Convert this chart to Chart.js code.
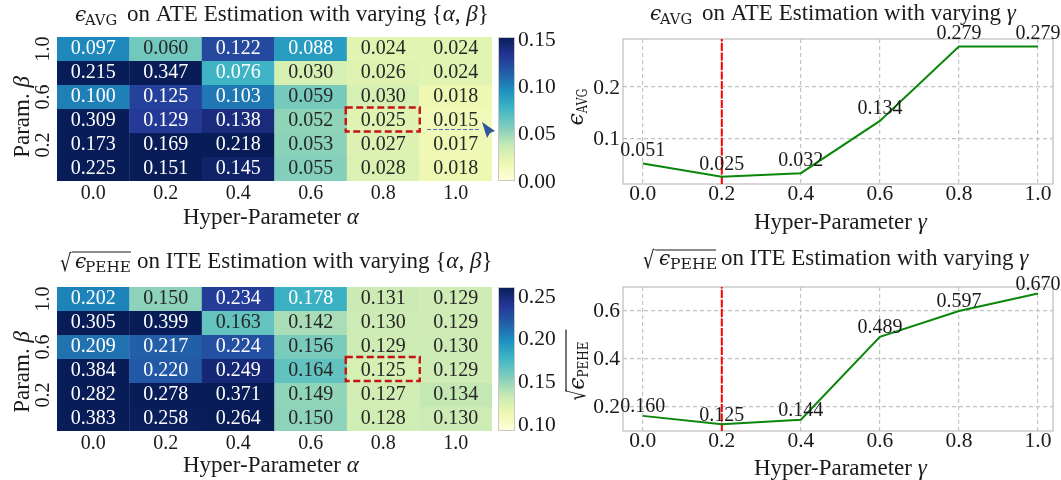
<!DOCTYPE html>
<html><head><meta charset="utf-8">
<script src="https://cdn.jsdelivr.net/npm/chart.js@4"></script>
<style>
html,body{margin:0;padding:0;background:#fff;width:1061px;height:480px;overflow:hidden}
canvas{position:absolute;left:0;top:0}
.p{position:absolute}
</style></head><body>
<div class="p" style="left:0;top:0;width:495px;height:240px"><canvas id="c1"></canvas></div>
<div class="p" style="left:495px;top:0;width:66px;height:240px"><canvas id="c2"></canvas></div>
<div class="p" style="left:561px;top:0;width:500px;height:240px"><canvas id="c3"></canvas></div>
<div class="p" style="left:0;top:240px;width:495px;height:240px"><canvas id="c4"></canvas></div>
<div class="p" style="left:495px;top:240px;width:66px;height:240px"><canvas id="c5"></canvas></div>
<div class="p" style="left:561px;top:240px;width:500px;height:240px"><canvas id="c6"></canvas></div>
<script>
const alphaLabels = ['0.0','0.2','0.4','0.6','0.8','1.0'];
const betaLabels = ['1.0','0.8','0.6','0.4','0.2','0.0'];
const gammaValues = [0,0.2,0.4,0.6,0.8,1.0];
const ateGrid = [
 [0.097,0.060,0.122,0.088,0.024,0.024],
 [0.215,0.347,0.076,0.030,0.026,0.024],
 [0.100,0.125,0.103,0.059,0.030,0.018],
 [0.309,0.129,0.138,0.052,0.025,0.015],
 [0.173,0.169,0.218,0.053,0.027,0.017],
 [0.225,0.151,0.145,0.055,0.028,0.018]];
const iteGrid = [
 [0.202,0.150,0.234,0.178,0.131,0.129],
 [0.305,0.399,0.163,0.142,0.130,0.129],
 [0.209,0.217,0.224,0.156,0.129,0.130],
 [0.384,0.220,0.249,0.164,0.125,0.129],
 [0.282,0.278,0.371,0.149,0.127,0.134],
 [0.383,0.258,0.264,0.150,0.128,0.130]];
const ateGamma = [0.051,0.025,0.032,0.134,0.279,0.279];
const iteGamma = [0.160,0.125,0.144,0.489,0.597,0.670];
const ateBarTicks = [0,0.05,0.10,0.15];
const iteBarTicks = [0.10,0.15,0.20,0.25];
const stops = ['#ffffd9','#edf8b1','#c7e9b4','#7fcdbb','#41b6c4','#1d91c0','#225ea8','#253494','#081d58'];

const SERIF='"Liberation Serif"';
const INK='#1a1a1a';
const hex=h=>[1,3,5].map(i=>parseInt(h.slice(i,i+2),16));
function cmap(t){t=Math.max(0,Math.min(1,t))*(stops.length-1);const i=Math.min(stops.length-2,Math.floor(t)),f=t-i;
 const a=hex(stops[i]),b=hex(stops[i+1]);return a.map((v,k)=>v+(b[k]-v)*f);}
const rgb=c=>`rgb(${c.map(Math.round).join(',')})`;
const lum=c=>{const l=c.map(v=>{v/=255;return v<=0.03928?v/12.92:Math.pow((v+0.055)/1.055,2.4)});return .2126*l[0]+.7152*l[1]+.0722*l[2]};

// mixed-font text in page coordinates. Segments flow; "at" pins a segment to a page x; rotated groups are centred.
function rich(ctx,item,ox,oy){
 const segs=item.s;
 ctx.save();ctx.translate(item.x-ox,item.y-oy);ctx.rotate(item.r||0);ctx.fillStyle=INK;ctx.textBaseline='alphabetic';ctx.textAlign='left';
 let w=0;segs.forEach(s=>{ctx.font=s.f;s.w=ctx.measureText(s.t).width*(s.sx||1);w+=s.w;});
 let cx=item.r?-w/2:0;
 segs.forEach(s=>{ctx.font=s.f;
  if(s.at!==undefined)cx=s.at-item.x;
  if(s.over){ctx.save();ctx.strokeStyle=INK;ctx.lineWidth=1.2;ctx.beginPath();ctx.moveTo(cx+s.over[1],s.over[0]);ctx.lineTo(cx+s.over[1]+s.over[2],s.over[0]);ctx.stroke();ctx.restore();}
  ctx.save();ctx.translate(cx,s.dy||0);ctx.scale(s.sx||1,1);ctx.fillText(s.t,0,0);ctx.restore();
  cx+=s.w;});
 ctx.restore();
}
const S=23;
const T=(t,at)=>({t,f:`${S}px ${SERIF}`,at});
const I=(t,at)=>({t,f:`italic ${S}px ${SERIF}`,at});
const EPS=(sz,at)=>({t:'ϵ',f:`italic ${sz}px "DejaVu Serif"`,at});
const SUB=(t,sz,at,sx)=>({t,f:`${sz}px "DejaVu Serif"`,dy:4,at,sx});
const ROOT=(at,over,sx,dy)=>({t:'√',f:`24px "DejaVu Sans"`,at,over,sx:sx||0.75,dy:dy===undefined?3:dy});
const richPlugin=(items,ox,oy)=>({id:'rich',afterDraw(ch){items.forEach(i=>rich(ch.ctx,i,ox,oy));}});
// moves an axis's tick text a little so the digits sit on their gridlines
const nudge=dy=>({id:'nudge',beforeDraw(ch){const s=ch.scales.y;const items=s.getLabelItems();
  items.forEach(it=>{if(!it.options.nudged){it.options.translation=[it.options.translation[0],it.options.translation[1]+dy];it.options.nudged=true;}});}});

function heat(id,grid,vmin,vmax,top,xH,oy,items,extra){
 const datasets=grid.map((row,r)=>({
  data:row.map(()=>[5-r,6-r]),
  vals:row,
  backgroundColor:row.map(v=>rgb(cmap((v-vmin)/(vmax-vmin)))),
  borderWidth:0,barPercentage:1.005,categoryPercentage:1,grouped:false}));
 const cellText={id:'cellText',afterDatasetsDraw(ch){const c=ch.ctx;c.save();c.font=`20px ${SERIF}`;c.textAlign='center';c.textBaseline='middle';
   ch.data.datasets.forEach((d,di)=>{ch.getDatasetMeta(di).data.forEach((el,i)=>{
     const col=cmap((d.vals[i]-vmin)/(vmax-vmin));c.fillStyle=lum(col)>0.408?'#262626':'#ffffff';
     c.fillText(d.vals[i].toFixed(3),el.x,ch.scales.y.getPixelForValue(5.5-di)-0.5);});});c.restore();
   if(extra)extra(ch);}};
 return new Chart(document.getElementById(id),{type:'bar',
  data:{labels:alphaLabels,datasets},
  options:{responsive:true,maintainAspectRatio:false,animation:false,
   layout:{padding:{top,right:3,left:0,bottom:0}},
   plugins:{legend:{display:false},tooltip:{enabled:false}},
   scales:{
    x:{offset:true,grid:{display:false,drawTicks:false},border:{display:false},
      afterFit(s){s.height=xH;},
      ticks:{font:{family:'Liberation Serif',size:20,lineHeight:1},color:INK,padding:2.5,maxRotation:0}},
    y:{type:'linear',min:0,max:6,grid:{display:false,drawTicks:false},border:{display:false},
      afterFit(s){s.width=57;},
      afterBuildTicks(s){s.ticks=[5.5,3.5,1.5].map(v=>({value:v}));},
      ticks:{font:{family:'Liberation Serif',size:20},color:INK,padding:0.5,minRotation:90,maxRotation:90,crossAlign:'center',
        callback:v=>betaLabels[5.5-v]}}
   }},
  plugins:[cellText,richPlugin(items,0,oy)]});
}

function colorbar(id,vmin,vmax,ticks,top,bottom){
 return new Chart(document.getElementById(id),{type:'bar',
  data:{labels:[''],datasets:[{data:[[vmin,vmax]],borderWidth:0,barPercentage:1,categoryPercentage:1,
    backgroundColor(ctx){const a=ctx.chart.chartArea;if(!a)return stops[0];
      const g=ctx.chart.ctx.createLinearGradient(0,a.bottom,0,a.top);stops.forEach((s,i)=>g.addColorStop(i/(stops.length-1),s));return g;}}]},
  options:{responsive:true,maintainAspectRatio:false,animation:false,layout:{padding:{left:3,top,right:0,bottom}},
   plugins:{legend:{display:false},tooltip:{enabled:false}},
   scales:{
    x:{display:false,offset:true},
    y:{position:'right',min:vmin,max:vmax,grid:{display:false,drawTicks:false},border:{display:false},
      afterFit(s){s.width=46;},
      afterBuildTicks(s){s.ticks=ticks.map(v=>({value:v}));},
      ticks:{font:{family:'Liberation Serif',size:21.5},color:INK,padding:3,callback:v=>v.toFixed(2)}}
   }},
  plugins:[nudge(2),{id:'frame',afterDraw(ch){const a=ch.chartArea,c=ch.ctx;c.save();c.strokeStyle='#c8c8c8';c.lineWidth=1;c.strokeRect(Math.round(a.left)+.5,Math.round(a.top)+.5,Math.round(a.width)-1,Math.round(a.height)-1);c.restore();}}]});
}

function lineChart(id,vals,ymin,ymax,yticks,top,xH,oy,labelGap,items){
 const pts=gammaValues.map((g,i)=>({x:g,y:vals[i]}));
 const labelPlugin={id:'vals',afterDraw(ch){const c=ch.ctx;c.save();c.font=`20px ${SERIF}`;c.fillStyle=INK;c.textAlign='center';c.textBaseline='middle';
   ch.getDatasetMeta(1).data.forEach((el,i)=>{c.fillText(vals[i].toFixed(3),el.x,el.y-labelGap);});c.restore();}};
 const tickFont={family:'Liberation Serif',size:21.5,lineHeight:1};
 return new Chart(document.getElementById(id),{type:'line',
  data:{datasets:[
   {data:[{x:gammaValues[1],y:ymin},{x:gammaValues[1],y:ymax}],borderColor:'#ff0000',borderWidth:2,borderDash:[8,1.5],pointRadius:0,tension:0,order:2},
   {data:pts,borderColor:'#0a860a',borderWidth:2,pointRadius:0,tension:0,order:1}]},
  options:{responsive:true,maintainAspectRatio:false,animation:false,layout:{padding:{top,right:8}},
   plugins:{legend:{display:false},tooltip:{enabled:false}},
   scales:{
    x:{type:'linear',min:-0.05,max:1.038,
      afterBuildTicks(s){s.ticks=gammaValues.map(v=>({value:v}));},
      afterFit(s){s.height=xH;},
      grid:{color:'#c4c4c4',lineWidth:1.2,drawTicks:false},
      border:{display:false,dash:[4,3]},
      ticks:{font:tickFont,color:INK,padding:0,maxRotation:0,callback:v=>v.toFixed(1)}},
    y:{min:ymin,max:ymax,
      afterBuildTicks(s){s.ticks=yticks.map(v=>({value:v}));},
      afterFit(s){s.width=62;},
      grid:{color:'#c4c4c4',lineWidth:1.2,drawTicks:false},
      border:{display:false,dash:[4,3]},
      ticks:{font:tickFont,color:INK,padding:3,callback:v=>v.toFixed(1)}}
   }},
  plugins:[nudge(1.5),{id:'frame',beforeDatasetsDraw(ch){const a=ch.chartArea,c=ch.ctx;c.save();c.strokeStyle='#bdbdbd';c.lineWidth=1.2;c.strokeRect(a.left,a.top,a.width,a.height);c.restore();}},labelPlugin,richPlugin(items,561,oy)]});
}

function redBox(ch,shift){
 const c=ch.ctx,x=ch.scales.x,y=ch.scales.y,cx=x.getPixelForValue(4);
 c.save();c.strokeStyle='#c41414';c.lineWidth=2.4;c.setLineDash([7,3.5]);
 const t=y.getPixelForValue(3)+shift,b=y.getPixelForValue(2)+shift;
 c.strokeRect(cx-37.5,t,74,b-t);c.restore();
}

heat('c1',ateGrid,0,0.15,37,59,0,[
 {s:[EPS(20,75),SUB('AVG',14.7,85),T('on ATE Estimation with varying {',127),I('α, β'),T('}')],x:75,y:21},
 {s:[T('Hyper-Parameter '),I('α')],x:183,y:224},
 {s:[T('Param. '),I('β')],x:29,y:117,r:-Math.PI/2}
],ch=>{
 redBox(ch,-1.5);
 const c=ch.ctx;
 c.save();
 c.strokeStyle='#4a72b8';c.lineWidth=1;c.setLineDash([4,2]);c.beginPath();c.moveTo(427,129.5);c.lineTo(481,129.5);c.stroke();
 c.setLineDash([]);c.fillStyle='#33559b';c.beginPath();c.moveTo(482,122);c.lineTo(495,131);c.lineTo(490,133);c.lineTo(487,138);c.closePath();c.fill();
 c.restore();
});
colorbar('c2',-0.001,0.151,ateBarTicks,37,59);
lineChart('c3',ateGamma,0.0109,0.2936,[0.1,0.2],39,56,0,12.5,[
 {s:[EPS(20,650),SUB('AVG',14.7,660),T('on ATE Estimation with varying ',702),I('γ')],x:650,y:20},
 {s:[T('Hyper-Parameter '),I('γ')],x:754,y:229},
 {s:[EPS(22),SUB('AVG',15,undefined,0.75)],x:583,y:107,r:-Math.PI/2}
]);
heat('c4',iteGrid,0.091,0.2593,47,49,240,[
 {s:[ROOT(60,[-16,12,59]),EPS(20,75),SUB('PEHE',15.3,85),T('on ITE Estimation with varying {',137),I('α, β'),T('}')],x:60,y:268},
 {s:[T('Hyper-Parameter '),I('α')],x:183,y:472},
 {s:[T('Param. '),I('β')],x:29,y:372,r:-Math.PI/2}
],ch=>redBox(ch,-2));
colorbar('c5',0.091,0.2593,iteBarTicks,47,49);
lineChart('c6',iteGamma,0.097,0.697,[0.2,0.4,0.6],47,49,240,9,[
 {s:[ROOT(643,[-15,12,61]),EPS(20,659),SUB('PEHE',15.7,670),T('on ITE Estimation with varying ',721),I('γ')],x:643,y:265},
 {s:[T('Hyper-Parameter '),I('γ')],x:754,y:475},
 {s:[ROOT(undefined,[-18,9,62],0.7,1),EPS(22),SUB('PEHE',15,undefined,0.8)],x:584,y:371,r:-Math.PI/2}
]);
</script>
</body></html>
